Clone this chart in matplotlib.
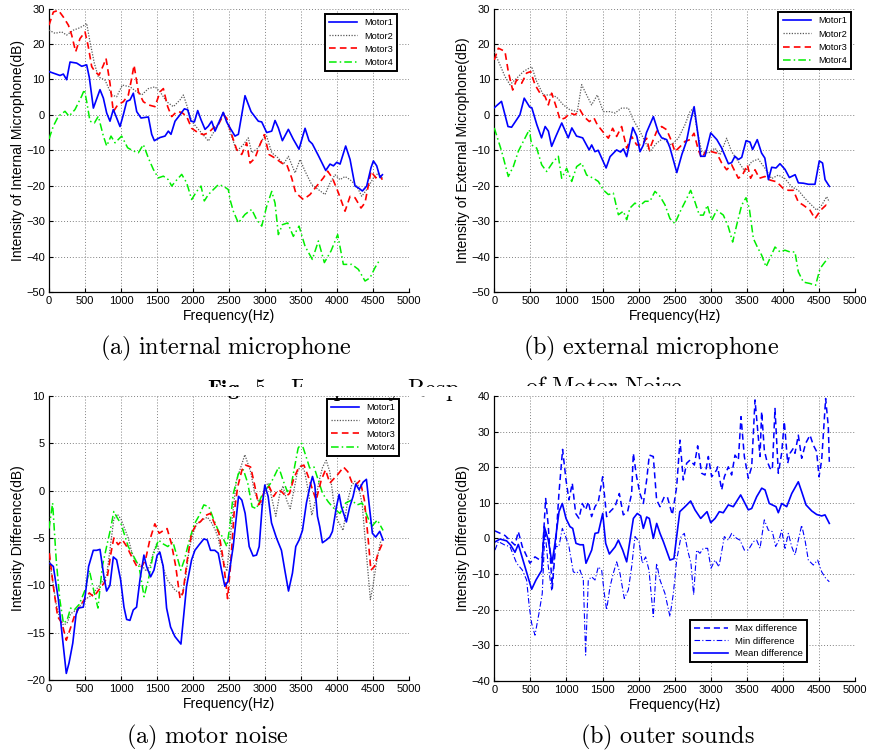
import matplotlib
matplotlib.use('Agg')
import matplotlib.pyplot as plt
from matplotlib.patches import Rectangle

plt.rcParams['font.family'] = ['Liberation Sans', 'DejaVu Sans']
plt.rcParams['mathtext.fontset'] = 'cm'

# (frequency Hz, dB)

# (a) internal microphone
int_m1 = [(0,12.2),(153,11.1),(199,11.5),(245,9.9),(292,14.9),(384,14.6),(454,13.7),(523,14.1),(560,10.5),(616,1.9),(708,7.1),(755,4.7),(801,0.5),(847,-1.8),(893,1.5),(940,-0.9),(986,-3.3),(1032,0),(1079,3.8),(1125,4.2),(1171,6.1),(1218,0.9),(1278,-0.9),(1380,-0.6),(1426,-5.5),(1463,-7.3),(1542,-6.4),(1611,-6.0),(1657,-4.6),(1694,-5.5),(1750,-1.8),(1819,0),(1880,1.7),(1926,1.4),(1972,-1.8),(2019,-2.0),(2065,1.2),(2111,-1.4),(2167,-4.1),(2213,-3.2),(2259,-1.8),(2306,-4.6),(2352,-2.5),(2420,0.7),(2467,-2.0),(2514,-3.7),(2583,-6.0),(2630,-5.5),(2722,5.4),(2806,0.9),(2907,-1.8),(2954,-2.0),(3023,-5.0),(3093,-4.6),(3139,-1.6),(3185,-3.7),(3241,-7.3),(3324,-4.1),(3393,-6.9),(3472,-9.7),(3556,-3.8),(3611,-7.3),(3657,-8.2),(3741,-11.5),(3843,-15.7),(3903,-13.9),(3950,-14.4),(3996,-13.4),(4042,-13.9),(4120,-8.8),(4181,-12.6),(4250,-20.1),(4296,-20.6),(4352,-21.5),(4412,-20.1),(4472,-14.9),(4505,-13.0),(4551,-14.4),(4597,-17.7),(4630,-16.9)]
int_m2 = [(0,23.9),(83,23.0),(176,23.4),(245,22.5),(338,23.9),(407,24.4),(477,25.1),(523,25.8),(569,20.6),(630,14.5),(685,10.7),(778,9.8),(870,5.6),(940,5.1),(1018,8.4),(1125,7.9),(1218,6.5),(1287,5.6),(1380,7.4),(1472,7.9),(1542,6.5),(1634,3.7),(1727,2.3),(1819,4.2),(1866,5.6),(1912,2.8),(1981,-1.8),(2074,-4.1),(2157,-6.0),(2213,-7.4),(2282,-5.1),(2352,-2.3),(2420,0.8),(2468,-1.8),(2490,-3.3),(2606,-10.3),(2699,-8.4),(2768,-6.5),(2815,-10.7),(2907,-9.3),(2977,-6.5),(3023,-6.0),(3093,-10.7),(3185,-12.2),(3255,-14.0),(3324,-11.7),(3417,-16.4),(3486,-12.6),(3556,-15.9),(3648,-19.7),(3741,-21.1),(3833,-22.5),(3903,-19.2),(3972,-16.9),(4042,-18.3),(4111,-17.4),(4181,-18.3),(4273,-20.1),(4343,-23.0),(4412,-21.1),(4505,-17.8),(4574,-16.4),(4630,-17.8)]
int_m3 = [(0,25.3),(60,29.0),(130,29.5),(199,27.6),(269,25.3),(315,22.5),(370,17.8),(430,21.5),(500,23.4),(546,19.2),(593,13.6),(639,12.2),(694,11.2),(755,14.0),(792,15.9),(847,8.9),(893,0.9),(954,2.8),(1032,3.7),(1102,5.6),(1148,10.3),(1181,14.0),(1241,6.5),(1310,3.7),(1380,2.8),(1472,2.3),(1542,6.5),(1588,7.4),(1648,2.3),(1704,-0.5),(1773,0.9),(1843,0.7),(1912,-0.5),(1981,-3.8),(2074,-5.1),(2144,-5.6),(2213,-5.1),(2282,-3.7),(2352,-2.8),(2421,0),(2467,-0.9),(2537,-5.6),(2606,-9.8),(2676,-11.2),(2745,-7.9),(2792,-13.6),(2861,-12.2),(2930,-8.4),(2990,-5.6),(3055,-11.2),(3139,-12.2),(3231,-13.6),(3301,-14.0),(3370,-17.8),(3426,-22.0),(3532,-23.9),(3625,-22.5),(3718,-20.1),(3810,-17.8),(3870,-15.9),(3935,-17.8),(4019,-22.0),(4111,-27.2),(4181,-23.0),(4250,-23.4),(4333,-26.3),(4389,-24.8),(4472,-15.9),(4537,-17.8),(4583,-16.9),(4630,-18.3)]
int_m4 = [(0,-6.8),(60,-3.2),(130,-0.4),(222,1.0),(278,-0.4),(361,1.5),(454,5.3),(491,7.1),(523,3.8),(569,-1.8),(630,-2.3),(685,-0.4),(755,-6.0),(801,-8.8),(861,-6.0),(917,-7.9),(1009,-6.0),(1092,-9.3),(1171,-10.2),(1241,-10.7),(1310,-8.4),(1380,-12.2),(1449,-15.4),(1518,-17.8),(1588,-17.3),(1657,-18.3),(1704,-20.1),(1759,-18.7),(1843,-16.8),(1912,-19.2),(1981,-23.9),(2051,-21.6),(2111,-20.1),(2157,-24.3),(2213,-22.5),(2282,-21.1),(2352,-19.7),(2421,-20.1),(2490,-21.1),(2514,-23.9),(2560,-27.2),(2629,-30.5),(2722,-28.1),(2815,-26.7),(2884,-29.6),(2954,-31.4),(3023,-25.8),(3093,-21.6),(3139,-24.9),(3185,-33.8),(3241,-31.0),(3315,-30.5),(3393,-34.3),(3472,-31.4),(3556,-37.1),(3657,-40.8),(3741,-35.6),(3824,-41.7),(3917,-38.4),(4009,-33.8),(4088,-42.2),(4204,-42.2),(4296,-43.6),(4389,-46.9),(4458,-46.0),(4528,-43.1),(4597,-40.8)]

# (b) external microphone
ext_m1 = [(0,2),(100,3.8),(190,-3.3),(240,-3.5),(355,0),(415,4.7),(490,2.2),(520,2),(590,-2.8),(655,-6.5),(705,-3.3),(750,-4.6),(795,-8.9),(855,-6),(935,-2.3),(1025,-6.5),(1075,-3.7),(1140,-6),(1225,-6.5),(1315,-9.9),(1350,-8.5),(1395,-10.4),(1440,-10),(1550,-15),(1605,-11.8),(1695,-9.9),(1750,-10.5),(1790,-9.6),(1835,-11.8),(1920,-3.6),(1975,-6),(2020,-10.4),(2065,-8.6),(2110,-5),(2205,-0.5),(2275,-5),(2320,-6.5),(2390,-7),(2435,-9.3),(2530,-16.3),(2600,-11.2),(2665,-7.4),(2720,-1.8),(2770,2.3),(2830,-6.6),(2860,-11.7),(2920,-11.7),(3000,-5.1),(3085,-7),(3150,-9.3),(3245,-13.8),(3290,-13.5),(3335,-11.7),(3385,-12.6),(3430,-12),(3490,-7.3),(3545,-7.7),(3580,-9.8),(3645,-7),(3705,-10.8),(3750,-12.2),(3800,-18.3),(3845,-14.8),(3905,-15),(3960,-13.8),(4030,-15.4),(4090,-17.7),(4170,-16.9),(4215,-19.2),(4285,-19.3),(4355,-19.6),(4445,-19.6),(4505,-13),(4550,-13.6),(4585,-18.3),(4645,-20.2)]
ext_m2 = [(0,17.8),(79,14.1),(148,10.8),(217,8.5),(310,10.3),(402,12.2),(518,13.6),(588,9.4),(680,5.6),(795,5.6),(864,5.0),(957,2.8),(1049,1.4),(1151,0.9),(1211,8.5),(1280,5.6),(1349,2.8),(1428,5.6),(1511,0.9),(1604,0.9),(1673,0.5),(1765,1.9),(1858,1.9),(1927,-1.4),(2020,-4.7),(2112,-8.5),(2158,-10.4),(2250,-8.0),(2343,-6.6),(2435,-8.5),(2481,-8.0),(2551,-6.6),(2643,-2.8),(2713,0.9),(2760,1.9),(2815,-4.7),(2875,-10.4),(2967,-10.8),(3060,-9.4),(3129,-11.3),(3221,-6.6),(3290,-10.4),(3383,-13.2),(3475,-16.0),(3568,-13.2),(3660,-12.5),(3752,-15.1),(3844,-18.0),(3937,-17.0),(4029,-18.0),(4122,-20.3),(4214,-21.3),(4307,-23.6),(4399,-25.5),(4469,-26.9),(4538,-25.5),(4607,-23.1),(4644,-24.6)]
ext_m3 = [(0,15.5),(56,18.8),(148,17.9),(194,12.2),(255,7.0),(310,9.9),(379,8.9),(449,11.8),(504,12.2),(564,8.5),(634,6.1),(703,5.2),(749,2.8),(795,6.1),(864,1.9),(911,-1.4),(980,-0.9),(1049,0.5),(1119,0),(1188,1.4),(1243,-0.5),(1317,-1.9),(1382,-0.9),(1428,-2.8),(1502,-4.7),(1581,-6.6),(1641,-3.8),(1696,-6.1),(1765,-3.3),(1835,-9.4),(1904,-6.1),(1974,-8.5),(2043,-8.5),(2112,-6.6),(2149,-9.9),(2204,-7.0),(2250,-4.7),(2320,-3.3),(2389,-4.2),(2458,-7.5),(2504,-10.4),(2574,-9.0),(2643,-7.5),(2713,-7.0),(2768,-5.2),(2828,-9.9),(2875,-12.2),(2944,-9.9),(3013,-10.4),(3083,-10.8),(3152,-13.6),(3221,-15.5),(3290,-14.1),(3336,-16.0),(3383,-17.9),(3443,-16.9),(3507,-14.1),(3553,-17.9),(3614,-15.5),(3674,-17.9),(3752,-17.4),(3821,-18.4),(3914,-18.9),(4006,-20.8),(4076,-21.3),(4145,-21.3),(4214,-24.6),(4284,-25.5),(4376,-26.9),(4445,-29.3),(4524,-26.9),(4597,-25.5),(4644,-26.0)]
ext_m4 = [(0,-3.7),(102,-10.3),(194,-17.4),(264,-14.6),(333,-10.3),(402,-7.5),(485,-4.2),(518,-8.5),(588,-9.4),(657,-14.1),(726,-16.0),(818,-13.2),(888,-11.7),(934,-17.9),(1003,-15.1),(1073,-18.8),(1142,-14.6),(1211,-13.6),(1280,-17.0),(1373,-17.9),(1442,-18.8),(1511,-21.2),(1581,-22.5),(1650,-22.1),(1720,-28.2),(1789,-27.2),(1835,-29.6),(1881,-26.3),(1950,-24.9),(2010,-25.8),(2089,-24.4),(2158,-24.4),(2227,-21.6),(2297,-23.0),(2366,-25.4),(2435,-29.3),(2504,-30.7),(2574,-27.4),(2643,-24.6),(2722,-21.3),(2782,-24.6),(2842,-28.3),(2898,-28.3),(2953,-25.5),(3013,-29.8),(3083,-26.9),(3175,-28.3),(3244,-31.6),(3304,-35.9),(3360,-31.1),(3429,-25.5),(3489,-23.4),(3535,-26.4),(3591,-34.9),(3646,-37.3),(3706,-39.6),(3767,-42.9),(3821,-40.5),(3891,-37.3),(3960,-38.7),(4029,-38.2),(4099,-38.7),(4168,-38.7),(4214,-44.3),(4284,-47.2),(4376,-47.6),(4454,-48.1),(4515,-43.4),(4584,-41.5),(4630,-40.5)]

# (a) motor noise
noise_m1 = [(14,-7.7),(60,-8.0),(130,-11.5),(200,-16.5),(240,-19.3),(278,-18.2),(330,-16.1),(375,-13.1),(407,-12.4),(476,-12.3),(504,-11.0),(550,-8.0),(615,-6.3),(661,-6.3),(708,-6.2),(763,-9.1),(800,-10.6),(846,-10.0),(893,-7.0),(939,-7.3),(994,-9.4),(1041,-12.3),(1078,-13.6),(1124,-13.7),(1170,-12.6),(1216,-12.3),(1263,-9.4),(1318,-6.8),(1355,-8.0),(1411,-9.1),(1457,-8.4),(1503,-6.8),(1540,-6.5),(1586,-8.0),(1633,-12.4),(1688,-14.4),(1748,-15.4),(1832,-16.2),(1864,-13.7),(1910,-10.1),(1980,-7.3),(2026,-6.3),(2086,-5.7),(2150,-5.1),(2197,-5.2),(2243,-6.3),(2303,-6.3),(2350,-6.6),(2396,-8.4),(2442,-10.1),(2484,-9.6),(2558,-5.9),(2632,-0.6),(2678,-1.0),(2724,-2.4),(2780,-5.9),(2835,-6.9),(2882,-6.8),(2919,-5.9),(2960,-1.7),(2997,0.6),(3043,-0.6),(3090,-3.4),(3159,-5.0),(3228,-6.3),(3275,-8.4),(3326,-10.6),(3381,-8.7),(3427,-5.9),(3474,-5.2),(3520,-4.2),(3575,-1.3),(3622,0.4),(3659,1.5),(3691,0.6),(3728,-2.7),(3760,-3.8),(3797,-5.5),(3853,-5.2),(3899,-4.9),(3936,-4.3),(3992,-1.7),(4029,-0.4),(4061,-1.7),(4130,-3.3),(4177,-1.7),(4223,-0.6),(4260,0.7),(4306,0.1),(4362,0.9),(4408,1.2),(4454,-2.0),(4491,-4.5),(4537,-4.9),(4593,-4.3),(4639,-5.2)]
noise_m2 = [(0,-7.0),(100,-12.0),(150,-13.5),(200,-14.2),(250,-14.0),(300,-13.0),(400,-12.5),(500,-11.5),(600,-11.0),(700,-10.0),(800,-9.0),(850,-6.0),(900,-3.0),(950,-2.5),(1000,-3.0),(1050,-4.0),(1100,-5.0),(1150,-6.5),(1200,-7.5),(1300,-8.0),(1350,-8.5),(1400,-8.0),(1450,-6.5),(1500,-5.5),(1550,-7.0),(1600,-8.5),(1650,-9.5),(1750,-10.5),(1850,-11.0),(1900,-9.0),(1950,-6.0),(2000,-4.5),(2050,-3.5),(2150,-3.0),(2200,-2.8),(2250,-3.3),(2300,-4.0),(2350,-5.0),(2400,-7.0),(2470,-8.5),(2530,-4.0),(2600,1.0),(2720,3.8),(2800,2.0),(2850,0),(2900,-1.0),(2950,-1.5),(3000,0.5),(3050,0.8),(3100,-1.0),(3150,-2.7),(3200,-0.5),(3250,0.5),(3300,-1.0),(3350,-1.9),(3400,0),(3450,2.0),(3500,2.7),(3550,2.0),(3600,0),(3650,-2.6),(3700,-1.0),(3750,1.0),(3800,2.5),(3850,3.2),(3900,2.0),(3950,-1.0),(4000,-3.0),(4084,-4.2),(4150,-1.0),(4200,0.5),(4250,1.0),(4300,0.5),(4350,-1.5),(4400,-6.0),(4463,-11.5),(4500,-10.0),(4550,-7.5),(4600,-5.5),(4640,-5.0)]
noise_m3 = [(5,-6.6),(60,-10.1),(120,-13.3),(180,-14.0),(240,-15.8),(290,-14.7),(350,-13.3),(420,-12.3),(500,-11.4),(560,-10.8),(620,-11.2),(690,-10.5),(760,-9.8),(810,-9.1),(860,-6.6),(900,-5.0),(960,-5.7),(1020,-5.2),(1080,-5.9),(1150,-7.0),(1220,-8.0),(1290,-8.0),(1340,-7.3),(1400,-5.2),(1470,-3.5),(1530,-4.5),(1590,-4.2),(1640,-4.0),(1700,-5.6),(1760,-8.0),(1820,-11.4),(1860,-10.8),(1920,-7.3),(1980,-4.5),(2050,-3.5),(2100,-3.3),(2180,-2.6),(2240,-2.4),(2300,-3.5),(2360,-4.5),(2420,-7.3),(2480,-11.4),(2520,-8.0),(2570,-2.4),(2620,0.4),(2680,2.2),(2730,2.7),(2800,2.5),(2850,0.8),(2910,-1.5),(2950,-1.0),(3000,0.2),(3060,0.4),(3120,-0.6),(3180,0.1),(3230,-0.1),(3290,-0.6),(3340,-0.3),(3400,1.3),(3470,2.5),(3540,2.7),(3600,1.5),(3660,0.1),(3710,-1.0),(3780,1.1),(3840,2.2),(3900,0.8),(3960,1.3),(4020,1.8),(4090,2.5),(4150,2.0),(4210,0.8),(4260,0.6),(4320,1.1),(4380,-1.0),(4430,-4.9),(4470,-8.4),(4520,-8.0),(4570,-6.6),(4640,-5.4)]
noise_m4 = [(0,-4.0),(50,-1.3),(100,-7.3),(150,-11.5),(200,-14.0),(250,-13.7),(300,-12.4),(350,-12.6),(420,-12.0),(500,-10.5),(560,-8.4),(620,-10.5),(680,-12.4),(740,-8.0),(800,-5.9),(850,-4.2),(900,-2.2),(950,-2.9),(1000,-3.5),(1050,-4.7),(1100,-5.9),(1180,-7.0),(1250,-8.0),(1320,-11.2),(1380,-9.4),(1440,-7.0),(1520,-5.2),(1580,-5.6),(1650,-5.9),(1720,-5.4),(1780,-7.0),(1830,-8.4),(1880,-7.3),(1950,-5.2),(2020,-3.5),(2080,-2.7),(2150,-1.5),(2220,-1.7),(2290,-3.1),(2350,-4.2),(2410,-4.9),(2470,-5.9),(2510,-3.8),(2560,-0.3),(2630,1.8),(2700,2.2),(2760,0.8),(2820,-1.7),(2880,-1.9),(2950,-0.6),(3020,0.2),(3080,0.8),(3140,1.7),(3190,2.5),(3250,1.1),(3310,-0.1),(3360,0.4),(3410,2.5),(3460,4.5),(3510,5.0),(3570,3.6),(3620,2.4),(3680,2.5),(3740,1.1),(3800,-0.3),(3880,-1.2),(3960,-1.9),(4040,-2.4),(4120,-1.3),(4200,-1.0),(4280,-1.5),(4350,-1.3),(4420,-2.7),(4480,-3.8),(4560,-3.1),(4640,-4.2)]

# (b) outer sounds
out_max = [(9,2.1),(148,0.8),(240,-1.0),(287,-1.9),(333,1.9),(388,-2.3),(494,-7.0),(564,-5.2),(633,-6.1),(665,-5.2),(712,11.2),(749,3.3),(804,-14.0),(855,-0.5),(896,12.6),(947,25.0),(994,16.4),(1035,10.8),(1081,15.5),(1128,7.0),(1174,5.6),(1220,9.8),(1266,8.0),(1303,10.3),(1349,6.1),(1396,8.9),(1442,10.3),(1502,17.3),(1557,6.1),(1604,7.5),(1673,8.9),(1733,12.6),(1788,6.6),(1848,7.5),(1904,12.6),(1927,23.9),(1973,17.3),(2019,12.6),(2066,9.8),(2112,16.4),(2149,23.4),(2204,23.0),(2250,10.8),(2297,8.9),(2357,11.7),(2398,11.7),(2468,6.6),(2528,14.5),(2574,27.6),(2620,16.4),(2666,21.1),(2713,22.0),(2773,20.6),(2819,26.0),(2874,18.3),(2921,17.8),(2967,23.0),(3013,17.3),(3082,19.2),(3096,20.1),(3152,13.6),(3189,17.3),(3244,20.1),(3290,17.8),(3336,23.4),(3383,22.0),(3420,34.2),(3466,23.0),(3521,16.9),(3568,20.1),(3614,38.9),(3651,30.4),(3683,23.0),(3706,35.6),(3743,24.8),(3775,22.0),(3822,19.7),(3854,19.2),(3891,36.5),(3937,18.3),(3983,23.9),(4020,32.8),(4067,21.1),(4099,23.9),(4145,25.3),(4168,23.9),(4214,29.0),(4261,22.5),(4316,26.7),(4376,29.0),(4422,26.2),(4468,24.4),(4501,17.3),(4538,22.0),(4593,39.3),(4630,31.4),(4644,21.5)]
out_min = [(9,-3.3),(55,-0.9),(148,-1.9),(217,-2.3),(310,-7.0),(388,-8.9),(448,-11.7),(485,-19.2),(518,-23.9),(564,-27.2),(619,-21.1),(665,-15.5),(702,2.3),(749,-8.0),(795,-14.5),(841,-2.3),(896,-2.3),(943,2.8),(989,0.5),(1035,-2.3),(1095,-9.4),(1141,-9.8),(1188,-8.9),(1234,-11.7),(1266,-32.8),(1303,-11.7),(1349,-10.8),(1396,-11.7),(1442,-8.0),(1488,-8.9),(1525,-15.5),(1557,-20.1),(1604,-13.6),(1650,-9.8),(1696,-6.6),(1742,-9.8),(1802,-16.9),(1858,-14.5),(1904,-8.0),(1950,0.5),(2006,-0.9),(2052,-7.0),(2098,-5.2),(2144,-8.9),(2204,-22.0),(2250,-7.0),(2297,-11.7),(2366,-15.5),(2435,-22.0),(2482,-15.5),(2528,-6.1),(2588,0.5),(2634,1.4),(2680,-3.3),(2726,-7.0),(2763,-15.9),(2805,-3.3),(2851,-4.2),(2897,-2.8),(2957,-2.8),(3004,-8.4),(3059,-6.1),(3114,-8.0),(3189,0.5),(3244,-0.5),(3290,1.4),(3359,0),(3406,-0.5),(3466,-3.3),(3521,-3.3),(3591,-0.9),(3637,-0.5),(3683,-2.8),(3743,5.2),(3799,2.3),(3854,1.9),(3900,-2.3),(3946,-0.5),(3983,2.3),(4030,-2.8),(4076,1.4),(4122,-2.3),(4168,-4.7),(4214,-0.5),(4261,3.7),(4307,-0.5),(4353,-6.1),(4422,-7.5),(4482,-6.1),(4538,-9.4),(4593,-11.2),(4644,-12.2)]
out_mean = [(10,-1.0),(79,-0.2),(171,-0.7),(227,-1.9),(287,-3.9),(333,-1.7),(518,-14.3),(578,-11.7),(657,-9.0),(693,3.3),(749,-0.5),(800,-7.0),(841,-1.4),(897,7.5),(943,9.8),(994,5.6),(1049,3.3),(1087,2.8),(1132,-1.4),(1188,-1.8),(1234,-1.8),(1271,-7.0),(1350,-3.3),(1396,1.4),(1442,1.6),(1503,7.0),(1544,-1.4),(1595,-4.4),(1674,-2.4),(1720,-0.5),(1780,-3.3),(1835,-6.6),(1928,5.6),(1982,7.0),(2029,6.3),(2066,2.8),(2112,6.0),(2149,5.6),(2205,0),(2251,4.2),(2297,1.4),(2343,-0.9),(2435,-6.1),(2490,-5.7),(2571,7.5),(2644,8.9),(2722,10.5),(2782,8.0),(2861,5.6),(2949,7.5),(3000,4.4),(3060,5.6),(3119,7.5),(3174,7.2),(3244,9.4),(3313,8.9),(3415,12.2),(3521,8.0),(3568,8.4),(3637,11.7),(3707,14.1),(3753,13.6),(3812,9.8),(3905,8.9),(3937,7.2),(3984,9.8),(4053,8.9),(4123,12.6),(4214,15.9),(4261,13.1),(4321,9.4),(4400,7.7),(4469,6.7),(4538,6.3),(4584,6.6),(4644,4.2)]

motor_labels = ['Motor1', 'Motor2', 'Motor3', 'Motor4']
diff_labels = ['Max difference', 'Min difference', 'Mean difference']
x_ticks = list(range(0, 5001, 500))
captions = ['(a) internal microphone', '(b) external microphone',
            '(a) motor noise', '(b) outer sounds']
# only these pieces of the figure caption show in the picture
fig_caption = ['Fig. 5', 'Frequency', 'Resp', 'of Motor Noise']


def xy(pts):
    return [p[0] for p in pts], [p[1] for p in pts]


def mrm(s):
    return r'$\mathrm{' + s.replace(' ', r'\ ') + '}$'


def setup(ax, ylim, yticks, ylabel):
    ax.set_xlim(0, 5000)
    ax.set_ylim(*ylim)
    ax.set_xticks(x_ticks)
    ax.set_yticks(yticks)
    ax.grid(True, color='0.5', linestyle=(0, (1, 2)), linewidth=0.7)
    ax.spines['top'].set_visible(False)
    ax.spines['right'].set_visible(False)
    for s in ['left', 'bottom']:
        ax.spines[s].set_linewidth(0.9)
    ax.tick_params(direction='in', length=3, labelsize=8, pad=3)
    ax.set_xlabel('Frequency(Hz)', fontsize=10, labelpad=2)
    ax.set_ylabel(ylabel, fontsize=10, labelpad=1)


def motors(ax, series, anchor):
    styles = [dict(color='#0000ff', ls='-', lw=1.2, zorder=5),
              dict(color='0.35', ls=(0, (1, 1.2)), lw=0.9, zorder=3),
              dict(color='#ff0000', ls=(0, (4, 2.5)), lw=1.2, zorder=4),
              dict(color='#00ee00', ls=(0, (5, 2, 1, 2)), lw=1.1, zorder=3.5)]
    for pts, st, lab in zip(series, styles, motor_labels):
        x, y = xy(pts)
        ax.plot(x, y, label=lab, **st)
    leg = ax.legend(loc='upper right', bbox_to_anchor=anchor, fontsize=6.7,
                    fancybox=False, edgecolor='black', framealpha=1,
                    borderpad=0.45, handlelength=3.0, labelspacing=0.45,
                    handletextpad=0.8, borderaxespad=0)
    leg.get_frame().set_linewidth(1.4)


fig = plt.figure(figsize=(8.69, 7.53), dpi=100)
W, H = 869.0, 753.0

ax1 = fig.add_axes([0.0564, 0.6122, 0.4143, 0.3765])
motors(ax1, [int_m1, int_m2, int_m3, int_m4], (0.967, 0.98))
setup(ax1, (-50, 30), range(-50, 31, 10), 'Intensity of Internal Microphone(dB)')

ax2 = fig.add_axes([0.5688, 0.6122, 0.4151, 0.3765])
motors(ax2, [ext_m1, ext_m2, ext_m3, ext_m4], (0.989, 0.987))
setup(ax2, (-50, 30), range(-50, 31, 10), 'Intensity of External Microphone(dB)')

ax3 = fig.add_axes([0.0564, 0.0969, 0.4143, 0.3772])
motors(ax3, [noise_m1, noise_m2, noise_m3, noise_m4], (0.973, 0.989))
setup(ax3, (-20, 10), range(-20, 11, 5), 'Intensity Difference(dB)')

ax4 = fig.add_axes([0.5688, 0.0960, 0.4151, 0.3781])
x, y = xy(out_max)
ax4.plot(x, y, color='#0000ff', ls=(0, (4, 2.5)), lw=1.1, label=diff_labels[0])
x, y = xy(out_min)
ax4.plot(x, y, color='#0000ff', ls=(0, (5, 2, 1, 2)), lw=0.8, label=diff_labels[1])
x, y = xy(out_mean)
ax4.plot(x, y, color='#0000ff', ls='-', lw=1.2, label=diff_labels[2])
leg = ax4.legend(loc='lower left', bbox_to_anchor=(0.543, 0.065), fontsize=6.8,
                 fancybox=False, edgecolor='black', framealpha=1,
                 borderpad=0.4, handlelength=3.6, labelspacing=0.4,
                 handletextpad=0.8, borderaxespad=0)
leg.get_frame().set_linewidth(1.4)
setup(ax4, (-40, 40), range(-40, 41, 10), 'Intensity Difference(dB)')

# sub captions
cap_pos = [(226, 348), (651, 348), (207, 737), (667, 737)]
for (cx, cy), txt in zip(cap_pos, captions):
    fig.text(cx / W, 1 - cy / H, mrm(txt), fontsize=17.5, ha='center', va='center')

# figure caption, half hidden behind the lower panels
fig.text(207 / W, 1 - 377 / H, r'$\mathbf{' + fig_caption[0].replace(' ', r'\ ') + '}$',
         fontsize=16, ha='left', va='top', zorder=1)
for px, txt in zip([290, 407, 525], fig_caption[1:]):
    fig.text(px / W, 1 - 377 / H, mrm(txt), fontsize=17.5, ha='left', va='top', zorder=1)
for (x0, y0, x1, y1) in [(195, 387, 472, 396), (303, 370, 405, 396),
                         (515, 386, 690, 396)]:
    fig.patches.append(Rectangle((x0 / W, 1 - y1 / H), (x1 - x0) / W, (y1 - y0) / H,
                                 transform=fig.transFigure, facecolor='white',
                                 edgecolor='none', zorder=2))

fig.savefig('out.png', dpi=100)
